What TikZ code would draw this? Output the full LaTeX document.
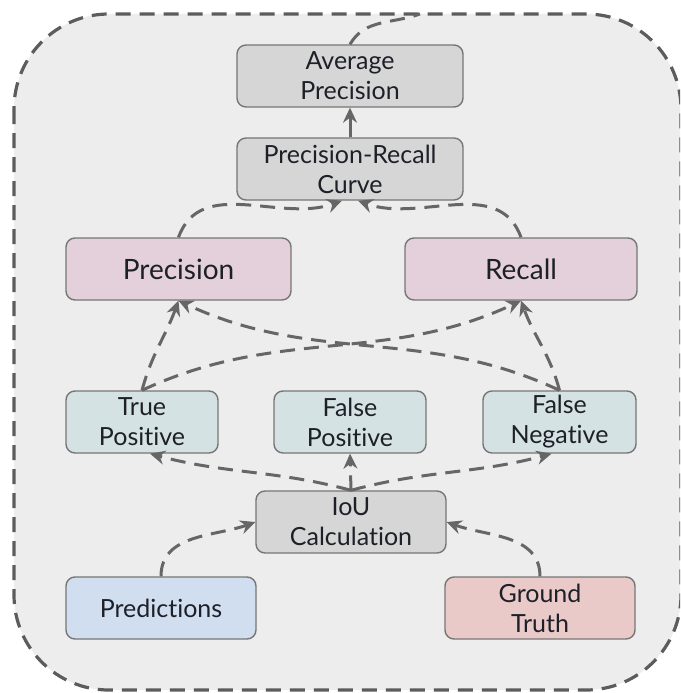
\documentclass[tikz,border=0pt]{standalone}
\usepackage{fontspec}
\setmainfont{Lato}[Ligatures=NoCommon]
\usetikzlibrary{arrows.meta, positioning}
\definecolor{panelgray}{RGB}{237,237,237}
\definecolor{rimgray}{RGB}{92,92,92}
\definecolor{linkgray}{RGB}{102,102,102}
\definecolor{edgegray}{RGB}{118,118,118}
\definecolor{stepgray}{RGB}{214,214,214}
\definecolor{metricpink}{RGB}{228,208,218}
\definecolor{countteal}{RGB}{213,226,227}
\definecolor{predblue}{RGB}{209,222,240}
\definecolor{truthred}{RGB}{234,201,201}
\definecolor{inkdark}{RGB}{30,32,40}

\begin{document}
\begin{tikzpicture}[x=1pt, y=1pt,
  block/.style={draw=edgegray, fill=#1, line width=1.4pt, rounded corners=9pt,
    minimum height=62pt, align=center, text=inkdark,
    font=\fontsize{25}{30}\selectfont},
  bigblock/.style={block=#1, font=\fontsize{28}{32}\selectfont},
  link/.style={draw=linkgray, line width=3pt, dash pattern=on 15pt off 9pt,
    -{Stealth[length=15pt, width=14pt, inset=5pt]}},
]
  \useasboundingbox (0,0) rectangle (680,-693);
  \clip (0,0) rectangle (680,-693);
  \draw[fill=panelgray, draw=rimgray, line width=3.2pt, dash pattern=on 15pt off 9pt,
    rounded corners=95pt] (14,-14) rectangle (681,-690);
  \coordinate (rim) at (420,-14);

  \node[block=stepgray, minimum width=226pt] (ap) at (350,-76) {Average\\Precision};
  \node[block=stepgray, minimum width=226pt] (prc) at (350,-169) {Precision-Recall\\Curve};
  \node[bigblock=metricpink, minimum width=225pt] (prec) at (178.5,-269) {Precision};
  \node[bigblock=metricpink, minimum width=232pt] (rec) at (521,-269) {Recall};
  \node[block=countteal, minimum width=152pt] (tp) at (142,-422) {True\\Positive};
  \node[block=countteal, minimum width=152pt] (fp) at (350,-422) {False\\Positive};
  \node[block=countteal, minimum width=153pt] (fn) at (559.5,-422) {False\\Negative};
  \node[block=stepgray, minimum width=190pt] (iou) at (351,-522) {IoU\\Calculation};
  \node[block=predblue, minimum width=190pt] (pred) at (161,-608) {Predictions};
  \node[block=truthred, minimum width=190pt] (gt) at (540,-608) {Ground\\Truth};

  \draw[link] (pred.north) to[out=90, in=200] (iou.west);
  \draw[link] (gt.north) to[out=90, in=-20] (iou.east);
  \draw[link] (iou.north) to[out=165, in=-15] ([xshift=8pt]tp.south);
  \draw[link] (iou.north) -- (fp.south);
  \draw[link] (iou.north) to[out=15, in=195] ([xshift=-8pt]fn.south);
  \draw[link] (tp.north) to[out=75, in=-110] (prec.south);
  \draw[link] (tp.north) to[out=25, in=-155] (rec.south);
  \draw[link] (fn.north) to[out=155, in=-25] (prec.south);
  \draw[link] (fn.north) to[out=105, in=-70] (rec.south);
  \draw[link] (prec.north) to[out=70, in=-160] ([xshift=-8pt]prc.south);
  \draw[link] (rec.north) to[out=110, in=-20] ([xshift=8pt]prc.south);
  \draw[link, solid] (prc) -- (ap);
  \draw[link, -] (ap.north) to[out=60, in=200] (rim);
\end{tikzpicture}
\end{document}
